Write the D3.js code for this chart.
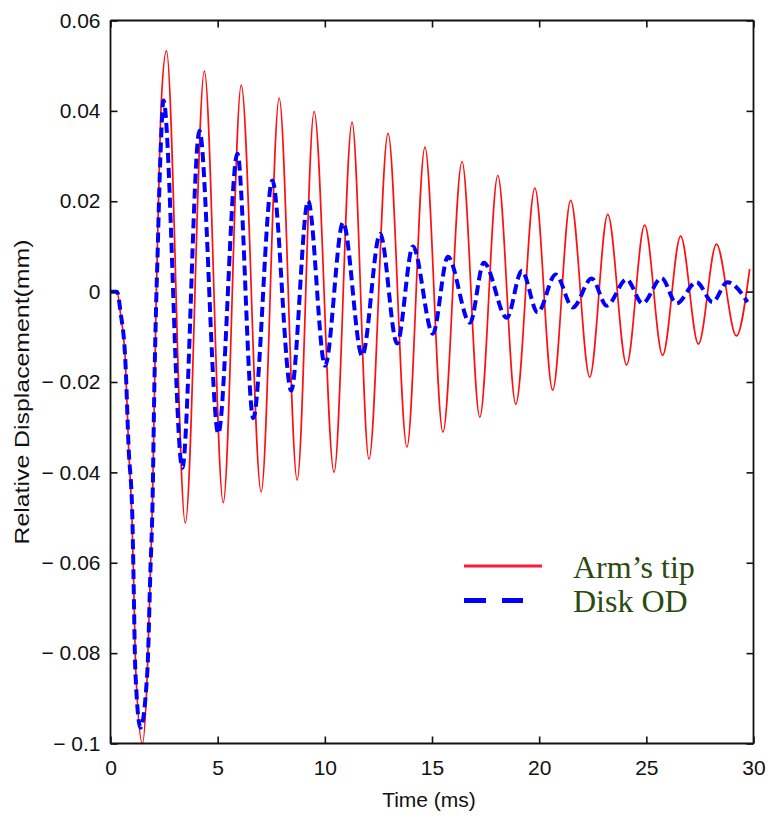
<!DOCTYPE html>
<html>
<head>
<meta charset="utf-8">
<script src="https://cdn.jsdelivr.net/npm/d3@7"></script>
<style>
  html, body { margin: 0; padding: 0; background: #fff; }
  svg { display: block; }
</style>
</head>
<body>
<svg id="chart" width="771" height="818"></svg>
<script>
// ---- Data ----
// Arm's tip (red, solid): time (ms)
const armTime = [0, 0.3, 0.47, 0.7, 0.84, 1.0, 1.07, 1.18, 1.49, 1.72, 1.86, 1.96, 2.06, 2.14, 2.24, 2.37, 2.61,
  3.49, 4.38, 5.26, 6.10, 7.03, 7.87, 8.71, 9.50, 10.43, 11.27, 12.06, 12.95, 13.83, 14.67, 15.51, 16.40,
  17.23, 18.07, 18.91, 19.80, 20.63, 21.47, 22.36, 23.20, 24.08, 24.92, 25.76, 26.60, 27.43, 28.27, 29.20, 29.82];
// Arm's tip: relative displacement (mm)
const armDisp = [0, 0, -0.005, -0.016, -0.034, -0.05, -0.062, -0.084, -0.1, -0.084, -0.062, -0.046, -0.02, 0, 0.02, 0.042, 0.0533,
  -0.0512, 0.0488, -0.0467, 0.0457, -0.0443, 0.0428, -0.0417, 0.0399, -0.0400, 0.0375, -0.0371, 0.0350, -0.0344, 0.0320, -0.0311, 0.0288,
  -0.0278, 0.0257, -0.0249, 0.0229, -0.0218, 0.0202, -0.0189, 0.0171, -0.0162, 0.0147, -0.0141, 0.0123, -0.0116, 0.0105, -0.0098, 0.0050];

// Disk OD (blue, dashed): time (ms)
const diskTime = [0, 0.3, 0.47, 0.7, 0.84, 1.02, 1.07, 1.16, 1.40, 1.72, 1.86, 1.96, 2.05, 2.14, 2.19, 2.28, 2.38, 2.47,
  3.35, 4.15, 5.03, 5.92, 6.66, 7.55, 8.43, 9.22, 10.01, 10.85, 11.74, 12.58, 13.37, 14.11, 15.04, 15.74,
  16.77, 17.42, 18.49, 19.19, 19.93, 20.77, 21.57, 22.45, 23.15, 24.08, 24.82, 25.71, 26.41, 27.34, 28.09, 28.78, 29.72];
// Disk OD: relative displacement (mm)
const diskDisp = [0, 0, -0.0046, -0.016, -0.034, -0.05, -0.062, -0.084, -0.0965, -0.084, -0.062, -0.047, -0.02, -0.001, 0.007, 0.023, 0.036, 0.0423,
  -0.0390, 0.0356, -0.0314, 0.0305, -0.0280, 0.0246, -0.0219, 0.0201, -0.0164, 0.0153, -0.0142, 0.0128, -0.0115, 0.0100, -0.0093, 0.0077,
  -0.0069, 0.0064, -0.0058, 0.0046, -0.0046, 0.0038, -0.0035, 0.0029, -0.0031, 0.0027, -0.0026, 0.0030, -0.0026, 0.0021, -0.0023, 0.0021, -0.0023];

const xTicks = [0, 5, 10, 15, 20, 25, 30];
const xTickLabels = ["0", "5", "10", "15", "20", "25", "30"];
const yTicks = [-0.1, -0.08, -0.06, -0.04, -0.02, 0, 0.02, 0.04, 0.06];
const yTickLabels = ["\u2212 0.1", "\u2212 0.08", "\u2212 0.06", "\u2212 0.04", "\u2212 0.02", "0", "0.02", "0.04", "0.06"];
const seriesNames = ["Arm\u2019s tip", "Disk OD"];
const xTitle = "Time (ms)";
const yTitle = "Relative Displacement(mm)";

// ---- Layout ----
const svg = d3.select("#chart");
const L = 110.5, R = 753.5, T = 20.5, B = 743.5;

const x = d3.scaleLinear().domain([0, 30]).range([L, R]);
const y = d3.scaleLinear().domain([-0.1, 0.06]).range([B, T]);

const axisFont = "'Liberation Sans', Arial, Helvetica, sans-serif";
const axisColor = "#111";

// Clip
svg.append("defs").append("clipPath").attr("id", "plotclip")
  .append("rect").attr("x", L).attr("y", T - 2).attr("width", R - L).attr("height", B - T + 4);

const armData = armTime.map((t, i) => [t, armDisp[i]]);
const diskData = diskTime.map((t, i) => [t, diskDisp[i]]);

const line = d3.line().x(d => x(d[0])).y(d => y(d[1])).curve(d3.curveMonotoneX);

const plot = svg.append("g").attr("clip-path", "url(#plotclip)");
plot.append("path").datum(armData)
  .attr("d", line).attr("fill", "none")
  .attr("stroke", "#ff0f0f").attr("stroke-width", 1.7);
plot.append("path").datum(diskData)
  .attr("d", line).attr("fill", "none")
  .attr("stroke", "#0000ff").attr("stroke-width", 4)
  .attr("stroke-dasharray", "10,5");

// ---- Axes (MATLAB-style boxed, ticks inward) ----
const tickLen = 7;
const gBottom = svg.append("g").attr("transform", `translate(0,${B})`)
  .call(d3.axisBottom(x).tickValues(xTicks).tickFormat((d, i) => xTickLabels[i]).tickSize(-tickLen).tickPadding(17));
const gTop = svg.append("g").attr("transform", `translate(0,${T})`)
  .call(d3.axisTop(x).tickValues(xTicks).tickFormat("").tickSize(-tickLen));
const gLeft = svg.append("g").attr("transform", `translate(${L},0)`)
  .call(d3.axisLeft(y).tickValues(yTicks).tickFormat((d, i) => yTickLabels[i]).tickSize(-tickLen).tickPadding(10));
const gRight = svg.append("g").attr("transform", `translate(${R},0)`)
  .call(d3.axisRight(y).tickValues(yTicks).tickFormat("").tickSize(-tickLen));

[gBottom, gTop, gLeft, gRight].forEach(g => {
  g.select(".domain").attr("stroke", axisColor).attr("stroke-width", 1.8);
  g.selectAll(".tick line").attr("stroke", axisColor).attr("stroke-width", 1.6);
  g.selectAll("text").attr("font-family", axisFont).attr("font-size", 21).attr("fill", "#111");
});
[gBottom, gTop].forEach(g => g.select(".domain").attr("d", `M${L},0H${R}`));
[gLeft, gRight].forEach(g => g.select(".domain").attr("d", `M0,${T}V${B}`));

// ---- Axis titles ----
svg.append("text")
  .attr("x", 429).attr("y", 807)
  .attr("text-anchor", "middle")
  .attr("font-family", axisFont).attr("font-size", 21).attr("fill", "#111")
  .text(xTitle);

svg.append("text")
  .attr("transform", "translate(29,392) rotate(-90)")
  .attr("text-anchor", "middle")
  .attr("font-family", axisFont).attr("font-size", 21).attr("fill", "#111")
  .attr("textLength", 305).attr("lengthAdjust", "spacingAndGlyphs")
  .text(yTitle);

// ---- Legend ----
const legend = svg.append("g");
legend.append("line").attr("x1", 464).attr("x2", 542).attr("y1", 566).attr("y2", 566)
  .attr("stroke", "#ff1a3a").attr("stroke-width", 3);
legend.append("line").attr("x1", 464).attr("x2", 523).attr("y1", 600.5).attr("y2", 600.5)
  .attr("stroke", "#0000ff").attr("stroke-width", 5).attr("stroke-dasharray", "22,16");
const legFont = "'Liberation Serif', 'Times New Roman', Times, serif";
legend.append("text").attr("x", 573).attr("y", 578)
  .attr("font-family", legFont).attr("font-size", 32).attr("fill", "#2a4a10")
  .text(seriesNames[0]);
legend.append("text").attr("x", 573).attr("y", 612)
  .attr("font-family", legFont).attr("font-size", 32).attr("fill", "#2a4a10")
  .text(seriesNames[1]);
</script>
</body>
</html>
